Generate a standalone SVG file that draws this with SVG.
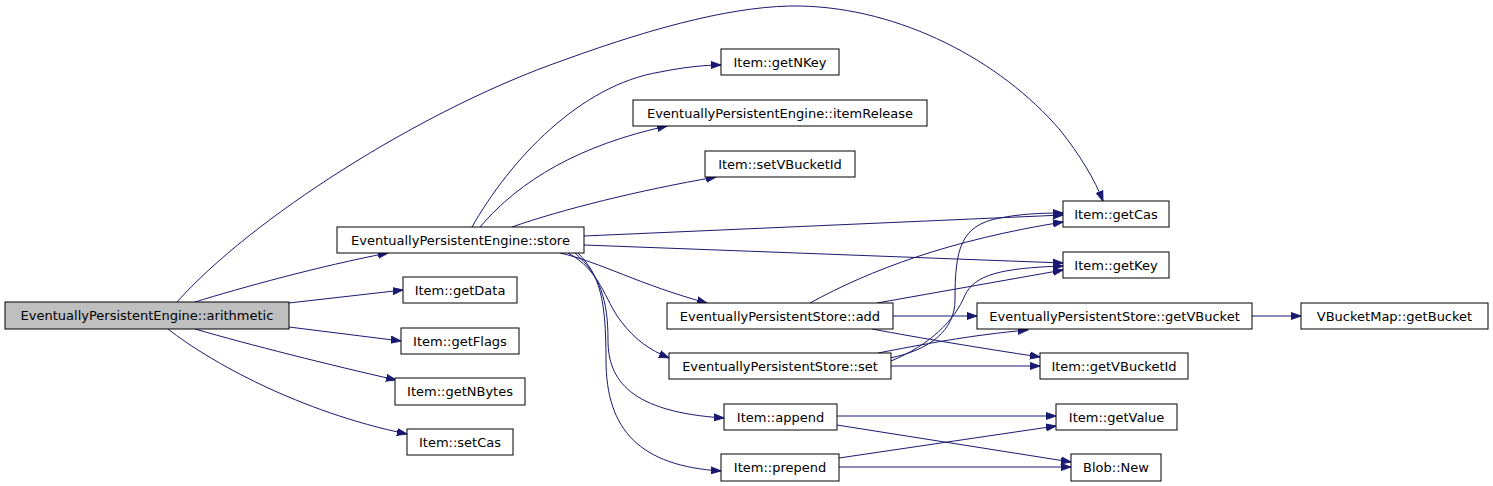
<svg xmlns="http://www.w3.org/2000/svg" width="1493" height="486" viewBox="0 0 1493 486">
<defs>
<style>
.node rect{fill:#ffffff;stroke:#000000;stroke-width:1}
.node.root rect{fill:#bfbfbf}
.node text{font-family:"DejaVu Sans","Liberation Sans",sans-serif;font-size:13px;text-anchor:middle;fill:#000000}
.edges path{fill:none;stroke:#191970;stroke-width:1;marker-end:url(#arr)}
</style>
<marker id="arr" markerUnits="userSpaceOnUse" markerWidth="12" markerHeight="10" viewBox="0 -5 12 10" refX="10" refY="0" orient="auto">
<path d="M0,-3.5 L10,0 L0,3.5 Z" fill="#191970" stroke="#191970" stroke-width="1"/>
</marker>
</defs>
<rect width="1493" height="486" fill="#ffffff"/>
<g class="edges" id="edges">
<path d="M177,302 C250,220 420,110 564,60 C660,25 740,5 800,6 C900,8 1000,60 1060,130 C1080,155 1095,180 1103,201"/>
<path d="M195,302 C240,288 320,266 388,253"/>
<path d="M289,303 L403,290"/>
<path d="M289,327 L401,341"/>
<path d="M195,329 C250,345 330,365 396,380"/>
<path d="M168,329 C210,362 300,412 407,434"/>
<path d="M472,227 C510,160 580,85 660,72 C685,67 705,65 721,65"/>
<path d="M480,227 C520,180 580,145 667,126"/>
<path d="M512,227 C560,210 640,190 716,177"/>
<path d="M584,236 L1063,215"/>
<path d="M584,245 L1063,263"/>
<path d="M560,253 C600,262 640,285 707,303"/>
<path d="M568,253 C600,270 605,300 620,320 C635,340 650,350 669,358"/>
<path d="M575,253 C600,275 608,300 608,340 C608,380 630,412 724,418"/>
<path d="M578,253 C600,275 606,300 606,360 C606,430 640,466 721,471"/>
<path d="M810,303 C870,270 950,240 1063,222"/>
<path d="M877,303 L1063,270"/>
<path d="M893,316 L977,316"/>
<path d="M872,329 C920,338 980,348 1040,357"/>
<path d="M890,358 C930,350 955,330 955,300 C955,250 960,225 1000,218 C1020,214 1040,213 1063,213"/>
<path d="M891,361 C930,345 955,320 965,295 C975,275 1000,268 1063,266"/>
<path d="M878,353 C920,345 970,335 1028,330"/>
<path d="M891,366 L1040,366"/>
<path d="M1252,316 L1301,316"/>
<path d="M837,416 L1056,416"/>
<path d="M837,425 L1071,462"/>
<path d="M839,458 L1056,426"/>
<path d="M839,467 L1071,467"/>
</g>
<g class="node root" id="n_arithmetic"><rect x="5" y="302" width="284" height="27"/><text x="147" y="320">EventuallyPersistentEngine::arithmetic</text></g>
<g class="node" id="n_store"><rect x="337" y="227" width="247" height="26"/><text x="460.5" y="245">EventuallyPersistentEngine::store</text></g>
<g class="node" id="n_getNKey"><rect x="721" y="49" width="118" height="26"/><text x="780" y="67">Item::getNKey</text></g>
<g class="node" id="n_itemRelease"><rect x="633" y="100" width="294" height="26"/><text x="780" y="118">EventuallyPersistentEngine::itemRelease</text></g>
<g class="node" id="n_setVBucketId"><rect x="705" y="151" width="150" height="26"/><text x="780" y="169">Item::setVBucketId</text></g>
<g class="node" id="n_getCas"><rect x="1063" y="201" width="106" height="26"/><text x="1116" y="219">Item::getCas</text></g>
<g class="node" id="n_getKey"><rect x="1063" y="252" width="106" height="26"/><text x="1116" y="270">Item::getKey</text></g>
<g class="node" id="n_getData"><rect x="403" y="277" width="114" height="26"/><text x="460" y="295">Item::getData</text></g>
<g class="node" id="n_add"><rect x="667" y="303" width="226" height="26"/><text x="780" y="321">EventuallyPersistentStore::add</text></g>
<g class="node" id="n_getVBucket"><rect x="977" y="303" width="275" height="26"/><text x="1114.5" y="321">EventuallyPersistentStore::getVBucket</text></g>
<g class="node" id="n_getBucket"><rect x="1301" y="303" width="187" height="26"/><text x="1394.5" y="321">VBucketMap::getBucket</text></g>
<g class="node" id="n_getFlags"><rect x="401" y="328" width="118" height="26"/><text x="460" y="346">Item::getFlags</text></g>
<g class="node" id="n_set"><rect x="669" y="353" width="222" height="26"/><text x="780" y="371">EventuallyPersistentStore::set</text></g>
<g class="node" id="n_getVBucketId"><rect x="1040" y="353" width="148" height="26"/><text x="1114" y="371">Item::getVBucketId</text></g>
<g class="node" id="n_getNBytes"><rect x="395" y="378" width="130" height="27"/><text x="460" y="396">Item::getNBytes</text></g>
<g class="node" id="n_append"><rect x="724" y="404" width="113" height="26"/><text x="780.5" y="422">Item::append</text></g>
<g class="node" id="n_getValue"><rect x="1056" y="404" width="121" height="26"/><text x="1116.5" y="422">Item::getValue</text></g>
<g class="node" id="n_setCas"><rect x="407" y="429" width="106" height="26"/><text x="460" y="447">Item::setCas</text></g>
<g class="node" id="n_prepend"><rect x="721" y="454" width="118" height="27"/><text x="780" y="472">Item::prepend</text></g>
<g class="node" id="n_blob"><rect x="1071" y="454" width="90" height="27"/><text x="1116" y="472">Blob::New</text></g>
</svg>
